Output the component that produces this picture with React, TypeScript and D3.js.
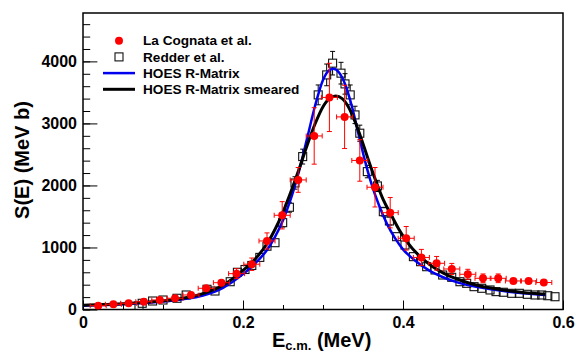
import React, { useRef, useEffect } from "react";
import * as d3 from "d3";

// La Cognata et al. (THM) points
const laEnergy = [0.019, 0.038, 0.057, 0.076, 0.096, 0.115, 0.135, 0.154, 0.173, 0.192, 0.211, 0.23, 0.249, 0.269, 0.289, 0.308, 0.327, 0.346, 0.365, 0.384, 0.404, 0.423, 0.442, 0.461, 0.481, 0.5, 0.519, 0.538, 0.557, 0.576];
const laS = [61, 84, 100, 126, 153, 181, 234, 342, 432, 578, 730, 1105, 1519, 2089, 2798, 3419, 3105, 2403, 1971, 1561, 1148, 839, 745, 653, 568, 503, 503, 460, 460, 435];
const laErr = [25, 25, 25, 30, 30, 35, 40, 50, 60, 80, 100, 130, 220, 200, 455, 550, 510, 335, 318, 245, 190, 130, 110, 90, 80, 70, 70, 60, 55, 50];
const laEnergyErr = 0.01;

// Redder et al. points
const redEnergy = [0.07, 0.074, 0.087, 0.1, 0.1175, 0.129, 0.155, 0.165, 0.184, 0.193, 0.2025, 0.211, 0.221, 0.23, 0.24, 0.2496, 0.258, 0.265, 0.2746, 0.294, 0.3046, 0.312, 0.3225, 0.3275, 0.334, 0.34, 0.346, 0.3554, 0.368, 0.3754, 0.383, 0.392, 0.4025, 0.413, 0.422, 0.4296, 0.44, 0.4496, 0.4609, 0.4712, 0.4796, 0.4888, 0.4984, 0.5088, 0.5163, 0.5254, 0.5359, 0.5454, 0.5554, 0.565, 0.5734, 0.581, 0.59];
const redS = [60, 100, 137, 153, 181, 234, 326, 298, 448, 600, 645, 710, 840, 1020, 1077, 1400, 1648, 2040, 2465, 3460, 3782, 3971, 3810, 3637, 3460, 3137, 2842, 2223, 1992, 1577, 1427, 1174, 1040, 852, 771, 690, 637, 556, 519, 448, 422, 368, 342, 315, 288, 278, 261, 261, 245, 234, 234, 222, 206];
const redErr = [10, 10, 10, 10, 12, 14, 18, 18, 25, 30, 32, 35, 40, 50, 55, 70, 80, 100, 120, 160, 175, 190, 175, 165, 160, 140, 130, 100, 90, 70, 65, 55, 50, 40, 38, 35, 30, 28, 25, 22, 20, 18, 17, 15, 14, 14, 13, 13, 12, 12, 12, 11, 10];

// HOES R-Matrix curve
const rmEnergy = [0, 0.025, 0.05, 0.075, 0.1, 0.125, 0.15, 0.175, 0.2, 0.215, 0.23, 0.24, 0.25, 0.26, 0.27, 0.28, 0.29, 0.3, 0.307, 0.313, 0.32, 0.328, 0.336, 0.344, 0.352, 0.36, 0.37, 0.38, 0.39, 0.4, 0.415, 0.43, 0.45, 0.47, 0.49, 0.51, 0.53, 0.55, 0.578];
const rmS = [62, 72, 85, 103, 128, 165, 225, 350, 570, 740, 960, 1170, 1440, 1790, 2230, 2750, 3280, 3700, 3850, 3880, 3820, 3620, 3280, 2850, 2420, 2050, 1680, 1380, 1150, 970, 790, 650, 520, 430, 370, 325, 290, 262, 235];

// HOES R-Matrix smeared curve
const smEnergy = [0, 0.025, 0.05, 0.075, 0.1, 0.125, 0.15, 0.175, 0.2, 0.215, 0.23, 0.24, 0.25, 0.26, 0.27, 0.28, 0.29, 0.3, 0.308, 0.316, 0.324, 0.332, 0.34, 0.348, 0.356, 0.365, 0.375, 0.385, 0.395, 0.405, 0.42, 0.435, 0.45, 0.47, 0.49, 0.51, 0.53, 0.55, 0.578];
const smS = [70, 80, 93, 112, 140, 182, 255, 390, 630, 810, 1060, 1290, 1570, 1900, 2260, 2640, 2990, 3270, 3400, 3440, 3400, 3260, 3030, 2750, 2440, 2110, 1780, 1530, 1290, 1090, 870, 710, 590, 480, 400, 345, 305, 275, 245];

const yMajor = [0, 1000, 2000, 3000, 4000];
const xMajor = [0, 0.2, 0.4, 0.6];
const xLabels = ["0", "0.2", "0.4", "0.6"];

const legendItems = ["La Cognata et al.", "Redder et al.", "HOES R-Matrix", "HOES R-Matrix smeared"];

export default function App() {
  const ref = useRef<SVGSVGElement>(null);

  useEffect(() => {
    const width = 575;
    const height = 354;
    const frame = { left: 83, right: 563, top: 13, bottom: 309.5 };
    const font = "'Liberation Sans', Arial, Helvetica, sans-serif";

    const svg = d3.select(ref.current);
    svg.selectAll("*").remove();
    svg.attr("width", width).attr("height", height);

    svg.append("rect").attr("width", width).attr("height", height).attr("fill", "#fff");

    const x = d3.scaleLinear().domain([0, 0.6]).range([frame.left, frame.right]);
    const y = d3.scaleLinear().domain([0, 4780]).range([frame.bottom, frame.top]);

    svg
      .append("clipPath")
      .attr("id", "frameClip")
      .append("rect")
      .attr("x", frame.left)
      .attr("y", frame.top)
      .attr("width", frame.right - frame.left)
      .attr("height", frame.bottom - frame.top);

    // Axes (ticks inward, ROOT style)
    const yMinor = d3.range(0, 4780, 200);
    svg
      .append("g")
      .attr("transform", `translate(${frame.left},0)`)
      .call(d3.axisLeft(y).tickValues(yMinor).tickSize(-7.2).tickFormat(() => ""));
    const yAxis = svg
      .append("g")
      .attr("transform", `translate(${frame.left},0)`)
      .call(d3.axisLeft(y).tickValues(yMajor).tickSize(-14.4).tickPadding(6).tickFormat(d3.format("d")));

    const xMinor = d3.range(0, 0.601, 0.05);
    svg
      .append("g")
      .attr("transform", `translate(0,${frame.bottom})`)
      .call(d3.axisBottom(x).tickValues(xMinor).tickSize(-4.5).tickFormat(() => ""));
    const xAxis = svg
      .append("g")
      .attr("transform", `translate(0,${frame.bottom})`)
      .call(
        d3
          .axisBottom(x)
          .tickValues(xMajor)
          .tickSize(-9)
          .tickPadding(7)
          .tickFormat((d, i) => xLabels[i])
      );

    svg.selectAll(".domain").remove();
    svg.selectAll(".tick line").attr("stroke", "#000").attr("stroke-width", 1);
    [xAxis, yAxis].forEach((g) =>
      g
        .selectAll("text")
        .attr("fill", "#000")
        .style("font-family", font)
        .style("font-size", "16px")
        .style("font-weight", "bold")
    );

    // Frame
    svg
      .append("rect")
      .attr("x", frame.left)
      .attr("y", frame.top)
      .attr("width", frame.right - frame.left)
      .attr("height", frame.bottom - frame.top)
      .attr("fill", "none")
      .attr("stroke", "#000")
      .attr("stroke-width", 1.5);

    const plot = svg.append("g").attr("clip-path", "url(#frameClip)");

    // Redder et al. squares with y errors
    const redder = redEnergy.map((e, i) => ({ e, s: redS[i], err: redErr[i] }));
    const sq = 8;
    const rg = plot.append("g");
    redder.forEach((d) => {
      const cx = x(d.e);
      const cy = y(d.s);
      const top = y(d.s + d.err);
      const bot = y(d.s - d.err);
      if (cy - top > sq / 2) {
        rg.append("line").attr("x1", cx).attr("x2", cx).attr("y1", top).attr("y2", cy - sq / 2).attr("stroke", "#000");
        rg.append("line").attr("x1", cx - 2.5).attr("x2", cx + 2.5).attr("y1", top).attr("y2", top).attr("stroke", "#000");
        rg.append("line").attr("x1", cx).attr("x2", cx).attr("y1", cy + sq / 2).attr("y2", bot).attr("stroke", "#000");
        rg.append("line").attr("x1", cx - 2.5).attr("x2", cx + 2.5).attr("y1", bot).attr("y2", bot).attr("stroke", "#000");
      }
      rg.append("rect")
        .attr("x", cx - sq / 2)
        .attr("y", cy - sq / 2)
        .attr("width", sq)
        .attr("height", sq)
        .attr("fill", "none")
        .attr("stroke", "#111")
        .attr("stroke-width", 1.1);
    });

    // Curves
    const line = d3
      .line<[number, number]>()
      .x((d) => x(d[0]))
      .y((d) => y(d[1]))
      .curve(d3.curveMonotoneX);

    plot
      .append("path")
      .datum(rmEnergy.map((e, i) => [e, rmS[i]] as [number, number]))
      .attr("fill", "none")
      .attr("stroke", "#0000ee")
      .attr("stroke-width", 2.5)
      .attr("d", line);

    plot
      .append("path")
      .datum(smEnergy.map((e, i) => [e, smS[i]] as [number, number]))
      .attr("fill", "none")
      .attr("stroke", "#000")
      .attr("stroke-width", 3)
      .attr("d", line);

    // La Cognata et al. points with x and y errors
    const red = "#ff0000";
    const lg = plot.append("g");
    const la = laEnergy.map((e, i) => ({ e, s: laS[i], err: laErr[i] }));
    la.forEach((d) => {
      const cx = x(d.e);
      const cy = y(d.s);
      const top = y(d.s + d.err);
      const bot = y(d.s - d.err);
      const xl = x(d.e - laEnergyErr);
      const xr = x(d.e + laEnergyErr);
      lg.append("line").attr("x1", xl).attr("x2", xr).attr("y1", cy).attr("y2", cy).attr("stroke", red);
      lg.append("line").attr("x1", xl).attr("x2", xl).attr("y1", cy - 2.5).attr("y2", cy + 2.5).attr("stroke", red);
      lg.append("line").attr("x1", xr).attr("x2", xr).attr("y1", cy - 2.5).attr("y2", cy + 2.5).attr("stroke", red);
      if (cy - top > 4) {
        lg.append("line").attr("x1", cx).attr("x2", cx).attr("y1", top).attr("y2", bot).attr("stroke", red);
        lg.append("line").attr("x1", cx - 2.5).attr("x2", cx + 2.5).attr("y1", top).attr("y2", top).attr("stroke", red);
        lg.append("line").attr("x1", cx - 2.5).attr("x2", cx + 2.5).attr("y1", bot).attr("y2", bot).attr("stroke", red);
      }
      lg.append("circle").attr("cx", cx).attr("cy", cy).attr("r", 4).attr("fill", red);
    });

    // Legend
    const leg = svg.append("g");
    const rowY = (i: number) => 40.7 + i * 16.2;
    leg.append("circle").attr("cx", 119).attr("cy", rowY(0)).attr("r", 4).attr("fill", red);
    leg
      .append("rect")
      .attr("x", 115)
      .attr("y", rowY(1) - 4)
      .attr("width", 8)
      .attr("height", 8)
      .attr("fill", "none")
      .attr("stroke", "#111")
      .attr("stroke-width", 1.1);
    leg.append("line").attr("x1", 103).attr("x2", 135).attr("y1", rowY(2)).attr("y2", rowY(2)).attr("stroke", "#0000ee").attr("stroke-width", 2.5);
    leg.append("line").attr("x1", 103).attr("x2", 135).attr("y1", rowY(3)).attr("y2", rowY(3)).attr("stroke", "#000").attr("stroke-width", 3);
    legendItems.forEach((t, i) => {
      leg
        .append("text")
        .attr("x", 143)
        .attr("y", rowY(i))
        .attr("dy", "0.35em")
        .style("font-family", font)
        .style("font-size", "13.6px")
        .style("font-weight", "bold")
        .text(t);
    });

    // Y axis title
    svg
      .append("text")
      .attr("transform", `translate(29,160) rotate(-90)`)
      .attr("text-anchor", "middle")
      .style("font-family", font)
      .style("font-size", "20px")
      .style("font-weight", "bold")
      .text("S(E) (MeV b)");

    // X axis title
    const xt = svg
      .append("text")
      .attr("x", 272)
      .attr("y", 347)
      .style("font-family", font)
      .style("font-size", "20px")
      .style("font-weight", "bold");
    xt.append("tspan").text("E");
    xt.append("tspan").attr("dy", 3).style("font-size", "13px").text("c.m.");
    xt.append("tspan").attr("dy", -3).text(" (MeV)");
  }, []);

  return (
    <svg
      ref={ref}
      width={575}
      height={354}
      style={{ position: "absolute", left: 0, top: 0, display: "block" }}
    />
  );
}
